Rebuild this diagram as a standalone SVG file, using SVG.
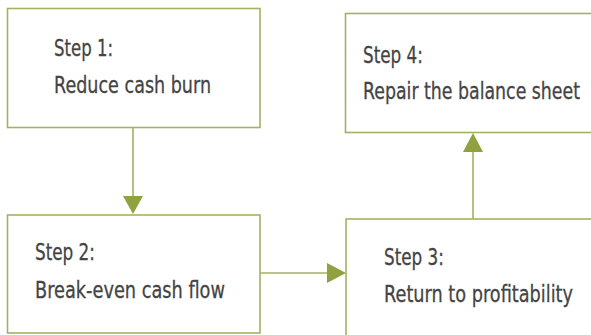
<svg xmlns="http://www.w3.org/2000/svg" width="591" height="335" viewBox="0 0 591 335">
  <defs>
    <style>
      .box { fill: #ffffff; stroke: #a2b262; stroke-width: 1.6; }
      .conn { stroke: #a2b262; stroke-width: 1.6; fill: none; }
      .head { fill: #8fa23f; stroke: none; }
      .t { font-family: "DejaVu Sans", "Liberation Sans", sans-serif; font-size: 23px; fill: #444444; stroke: #444444; stroke-width: 0.3; }
    </style>
  </defs>
  <rect width="591" height="335" fill="#ffffff"/>
  <g id="connectors">
    <line class="conn" x1="133" y1="128" x2="133" y2="197"/>
    <polygon class="head" points="123,196 143,196 133,214"/>
    <line class="conn" x1="260" y1="273" x2="328" y2="273"/>
    <polygon class="head" points="327,263 327,283 346,273"/>
    <line class="conn" x1="473" y1="219" x2="473" y2="151"/>
    <polygon class="head" points="463,152 483,152 473,133"/>
  </g>
  <g id="step1">
    <rect class="box" x="7.5" y="8.5" width="252.5" height="119"/>
    <text class="t" transform="translate(54,56) scale(0.7,1)" textLength="84.3" lengthAdjust="spacingAndGlyphs">Step 1:</text>
    <text class="t" transform="translate(54,93) scale(0.7,1)" textLength="224.3" lengthAdjust="spacingAndGlyphs">Reduce cash burn</text>
  </g>
  <g id="step2">
    <rect class="box" x="7.5" y="215" width="252.5" height="118"/>
    <text class="t" transform="translate(35,260) scale(0.7,1)" textLength="85.7" lengthAdjust="spacingAndGlyphs">Step 2:</text>
    <text class="t" transform="translate(35,298) scale(0.7,1)" textLength="271.4" lengthAdjust="spacingAndGlyphs">Break-even cash flow</text>
  </g>
  <g id="step3">
    <rect class="box" x="346" y="219" width="247" height="120"/>
    <text class="t" transform="translate(384,265) scale(0.7,1)" textLength="85.7" lengthAdjust="spacingAndGlyphs">Step 3:</text>
    <text class="t" transform="translate(384,302) scale(0.7,1)" textLength="270" lengthAdjust="spacingAndGlyphs">Return to profitability</text>
  </g>
  <g id="step4">
    <rect class="box" x="345.5" y="13.5" width="247.5" height="119"/>
    <text class="t" transform="translate(363,63) scale(0.7,1)" textLength="85.7" lengthAdjust="spacingAndGlyphs">Step 4:</text>
    <text class="t" transform="translate(363,99) scale(0.7,1)" textLength="310" lengthAdjust="spacingAndGlyphs">Repair the balance sheet</text>
  </g>
</svg>
